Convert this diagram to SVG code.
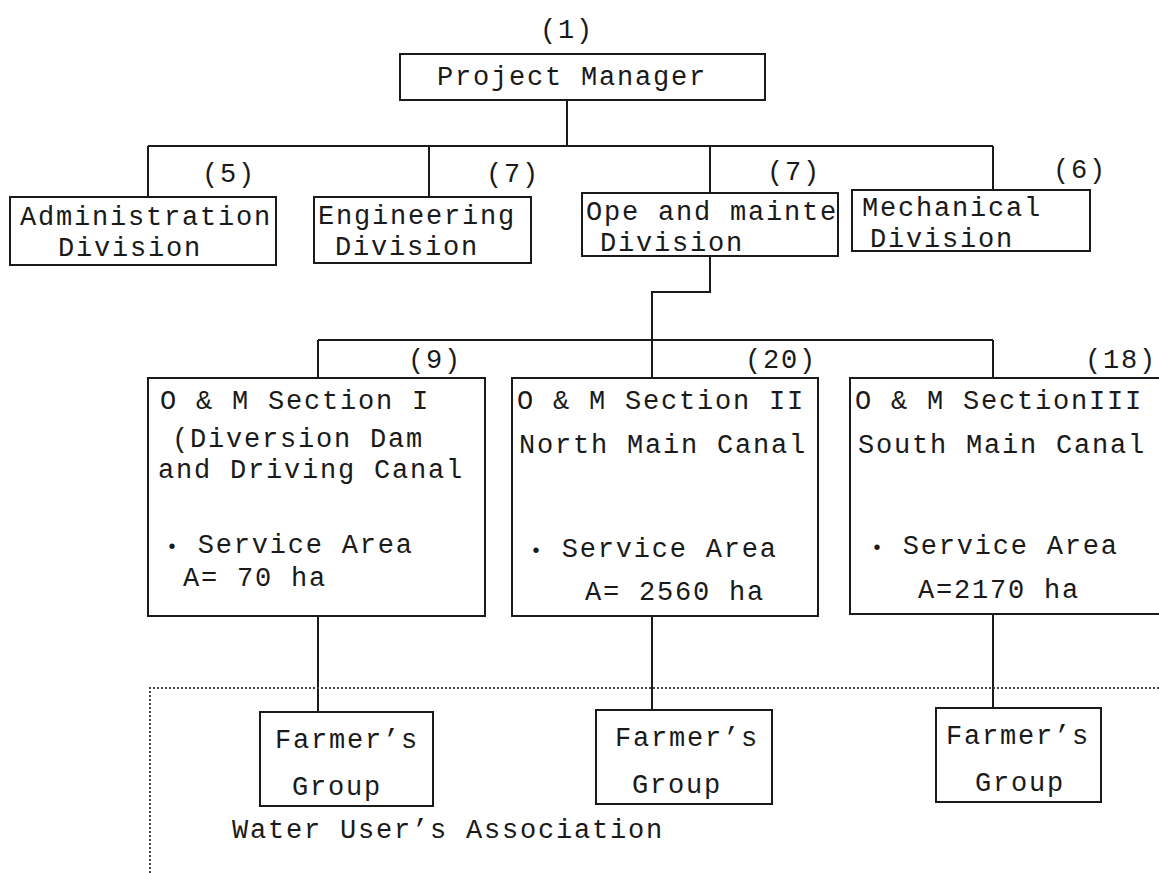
<svg xmlns="http://www.w3.org/2000/svg" width="1159" height="873" viewBox="0 0 1159 873">
<style>
text{font-family:"Liberation Mono","DejaVu Sans Mono",monospace;font-size:27px;letter-spacing:1.8px;fill:#1a1a1a}
.b{font-size:20px}
.box{fill:#fff;stroke:#1a1a1a;stroke-width:2}
.ln{fill:none;stroke:#1a1a1a;stroke-width:2}
.dot{fill:none;stroke:#444;stroke-width:2;stroke-dasharray:2 2}
</style>
<rect width="1159" height="873" fill="#fff"/>
<g id="connectors">
<path class="ln" d="M567 100V146M148 146H993M148 146V197M429 146V197M710 146V193M993 146V190"/>
<path class="ln" d="M710 256V292H652V340M318 340H993M318 340V378M652 340V378M993 340V378"/>
<path class="ln" d="M318 616V712M652 616V710M993 614V708"/>
</g>
<g id="wua">
<path class="dot" d="M150 873V688H1159"/>
<text x="232" y="838">Water User’s Association</text>
</g>
<g id="pm">
<text x="540" y="38">(1)</text>
<rect class="box" x="400" y="54" width="365" height="46"/>
<text x="437" y="85">Project Manager</text>
</g>
<g id="admin">
<text x="202" y="182">(5)</text>
<rect class="box" x="10" y="197" width="266" height="68"/>
<text x="20" y="225">Administration</text>
<text x="58" y="256">Division</text>
</g>
<g id="eng">
<text x="486" y="182">(7)</text>
<rect class="box" x="314" y="197" width="217" height="66"/>
<text x="318" y="224">Engineering</text>
<text x="335" y="255">Division</text>
</g>
<g id="ope">
<text x="767" y="180">(7)</text>
<rect class="box" x="582" y="193" width="256" height="63"/>
<text x="586" y="220">Ope and mainte</text>
<text x="600" y="251">Division</text>
</g>
<g id="mech">
<text x="1053" y="178">(6)</text>
<rect class="box" x="852" y="190" width="238" height="61"/>
<text x="862" y="216">Mechanical</text>
<text x="870" y="247">Division</text>
</g>
<g id="sec1">
<text x="408" y="368">(9)</text>
<rect class="box" x="148" y="378" width="337" height="238"/>
<text x="160" y="409">O &amp; M Section I</text>
<text x="172" y="447">(Diversion Dam</text>
<text x="158" y="478">and Driving Canal</text>
<text x="166" y="553"><tspan class="b">•</tspan> Service Area</text>
<text x="183" y="586">A= 70 ha</text>
</g>
<g id="sec2">
<text x="745" y="368">(20)</text>
<rect class="box" x="512" y="378" width="306" height="238"/>
<text x="517" y="409">O &amp; M Section II</text>
<text x="519" y="453">North Main Canal</text>
<text x="530" y="557"><tspan class="b">•</tspan> Service Area</text>
<text x="585" y="600">A= 2560 ha</text>
</g>
<g id="sec3">
<text x="1085" y="368">(18)</text>
<rect class="box" x="850" y="378" width="320" height="236"/>
<text x="855" y="409">O &amp; M SectionIII</text>
<text x="858" y="453">South Main Canal</text>
<text x="871" y="554"><tspan class="b">•</tspan> Service Area</text>
<text x="918" y="598">A=2170 ha</text>
</g>
<g id="fg1">
<rect class="box" x="260" y="712" width="173" height="94"/>
<text x="275" y="748">Farmer’s</text>
<text x="292" y="795">Group</text>
</g>
<g id="fg2">
<rect class="box" x="596" y="710" width="176" height="94"/>
<text x="615" y="746">Farmer’s</text>
<text x="632" y="793">Group</text>
</g>
<g id="fg3">
<rect class="box" x="936" y="708" width="165" height="94"/>
<text x="946" y="744">Farmer’s</text>
<text x="975" y="791">Group</text>
</g>
</svg>
